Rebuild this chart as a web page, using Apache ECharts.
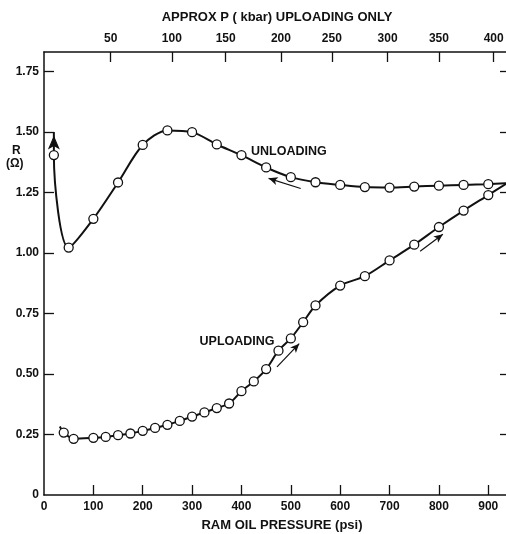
<!DOCTYPE html>
<html><head><meta charset="utf-8">
<script src="https://cdn.jsdelivr.net/npm/echarts@6/dist/echarts.min.js"></script>
<style>html,body{margin:0;padding:0;background:#fff}#c{width:506px;height:534px}</style>
</head><body><div id="c"></div>
<script>
// Uploading curve (ram oil pressure psi, resistance ohm)
const upPsi = [40, 60, 100, 125, 150, 175, 200, 225, 250, 275, 300, 325, 350, 375, 400, 425, 450, 475, 500, 525, 550, 600, 650, 700, 750, 800, 850, 900];
const upR   = [0.258, 0.232, 0.236, 0.240, 0.247, 0.254, 0.265, 0.277, 0.290, 0.306, 0.324, 0.341, 0.359, 0.378, 0.429, 0.469, 0.520, 0.596, 0.647, 0.714, 0.783, 0.865, 0.904, 0.969, 1.034, 1.107, 1.175, 1.239];
const upStart = [32, 0.283];
// Unloading curve
const downPsi = [900, 850, 800, 750, 700, 650, 600, 550, 500, 450, 400, 350, 300, 250, 200, 150, 100, 50, 20];
const downR   = [1.284, 1.281, 1.278, 1.274, 1.270, 1.272, 1.281, 1.292, 1.313, 1.353, 1.404, 1.448, 1.499, 1.506, 1.446, 1.291, 1.141, 1.022, 1.404];
const downTip = [20, 1.50];
const meetPoint = [938, 1.288];
// Axis ticks
const psiTicks = [0, 100, 200, 300, 400, 500, 600, 700, 800, 900];
const rTicks = [0, 0.25, 0.5, 0.75, 1.0, 1.25, 1.5, 1.75];
const kbarLabels = [50, 100, 150, 200, 250, 300, 350, 400];
const kbarAtPsi  = [135, 259, 368, 480, 583, 696, 800, 911];
// Direction arrows [from, to] in data units
const unloadArrow = [[520, 1.266], [455, 1.308]];
const upArrow1 = [[472, 0.529], [517, 0.625]];
const upArrow2 = [[762, 1.007], [808, 1.077]];
// Curve labels
const unloadLabel = [496, 1.418];
const uploadLabel = [391, 0.635];

const INK = '#111';
const FONT = 'Liberation Sans';
const XMAX = 944, YMAX = 1.83;

const chart = echarts.init(document.getElementById('c'), null, {renderer: 'canvas'});

const upData = [{value: upStart, symbol: 'none'}]
  .concat(upPsi.map((p, i) => [p, upR[i]]))
  .concat([{value: meetPoint, symbol: 'none'}]);
const downData = [{value: meetPoint, symbol: 'none'}]
  .concat(downPsi.map((p, i) => [p, downR[i]]))
  .concat([{value: downTip, symbol: 'arrow', symbolSize: [7, 11], symbolOffset: [0, 5], itemStyle: {color: INK, borderColor: INK}}]);

function arrowLine(a) {
  return [{coord: a[0], symbol: 'none'}, {coord: a[1], symbol: 'arrow'}];
}
const txt = {color: INK, fontFamily: FONT, fontSize: 12, fontWeight: 'bold'};
const axisLineStyle = {onZero: false, lineStyle: {color: INK, width: 1.5}};
const tickStyle = {color: INK, width: 1.3};

chart.setOption({
  animation: false,
  backgroundColor: '#fff',
  grid: {left: 44, top: 52, width: 466, height: 443, containLabel: false, outerBoundsMode: 'none'},
  xAxis: [{
    type: 'value', min: 0, max: XMAX, position: 'bottom',
    name: 'RAM OIL PRESSURE (psi)', nameLocation: 'middle', nameGap: 24,
    nameTextStyle: Object.assign({}, txt, {fontSize: 13, padding: [0, 0, 0, 10]}),
    axisLine: axisLineStyle,
    axisTick: {inside: true, length: 10, lineStyle: tickStyle, customValues: psiTicks.slice(1)},
    axisLabel: Object.assign({}, txt, {margin: 6, customValues: psiTicks}),
    splitLine: {show: false}
  }, {
    type: 'value', min: 0, max: XMAX, position: 'top',
    name: 'APPROX P ( kbar) UPLOADING ONLY', nameLocation: 'middle', nameGap: 28,
    nameTextStyle: Object.assign({}, txt, {fontSize: 13}),
    axisLine: axisLineStyle,
    axisTick: {inside: true, length: 10, lineStyle: tickStyle, customValues: kbarAtPsi},
    axisLabel: Object.assign({}, txt, {margin: 7, customValues: kbarAtPsi,
      formatter: v => { const i = kbarAtPsi.indexOf(v); return i >= 0 ? String(kbarLabels[i]) : ''; }}),
    splitLine: {show: false}
  }],
  yAxis: [{
    type: 'value', min: 0, max: YMAX, position: 'left',
    axisLine: axisLineStyle,
    axisTick: {inside: true, length: 10, lineStyle: tickStyle, customValues: rTicks.slice(1)},
    axisLabel: Object.assign({}, txt, {margin: 5, customValues: rTicks,
      formatter: v => v === 0 ? '0' : v.toFixed(2)}),
    splitLine: {show: false}
  }, {
    type: 'value', min: 0, max: YMAX, position: 'right',
    axisLine: axisLineStyle,
    axisTick: {inside: true, length: 10, lineStyle: tickStyle, customValues: rTicks.slice(1)},
    axisLabel: {show: false},
    splitLine: {show: false}
  }],
  graphic: [
    {type: 'text', left: 12, top: 145, style: {text: 'R', fill: INK, font: 'bold 12px "Liberation Sans"'}},
    {type: 'text', left: 6, top: 158, style: {text: '(Ω)', fill: INK, font: 'bold 12px "Liberation Sans"'}}
  ],
  series: [{
    name: 'UPLOADING', type: 'line', smooth: 0.3, data: upData,
    symbol: 'circle', symbolSize: 9,
    lineStyle: {color: INK, width: 2},
    itemStyle: {color: '#fff', borderColor: INK, borderWidth: 1.3},
    markLine: {silent: true, symbolSize: [6, 9], lineStyle: {color: INK, width: 1.2, type: 'solid'},
      label: {show: false}, data: [arrowLine(upArrow1), arrowLine(upArrow2)]},
    markPoint: {symbol: 'circle', symbolSize: 0, silent: true,
      label: Object.assign({}, txt, {show: true, fontSize: 12.5, formatter: 'UPLOADING'}),
      data: [{coord: uploadLabel}]}
  }, {
    name: 'UNLOADING', type: 'line', smooth: 0.3, data: downData,
    symbol: 'circle', symbolSize: 9,
    lineStyle: {color: INK, width: 2},
    itemStyle: {color: '#fff', borderColor: INK, borderWidth: 1.3},
    markLine: {silent: true, symbolSize: [6, 9], lineStyle: {color: INK, width: 1.2, type: 'solid'},
      label: {show: false}, data: [arrowLine(unloadArrow)]},
    markPoint: {symbol: 'circle', symbolSize: 0, silent: true,
      label: Object.assign({}, txt, {show: true, fontSize: 12.5, formatter: 'UNLOADING'}),
      data: [{coord: unloadLabel}]}
  }]
});
</script>
</body></html>
